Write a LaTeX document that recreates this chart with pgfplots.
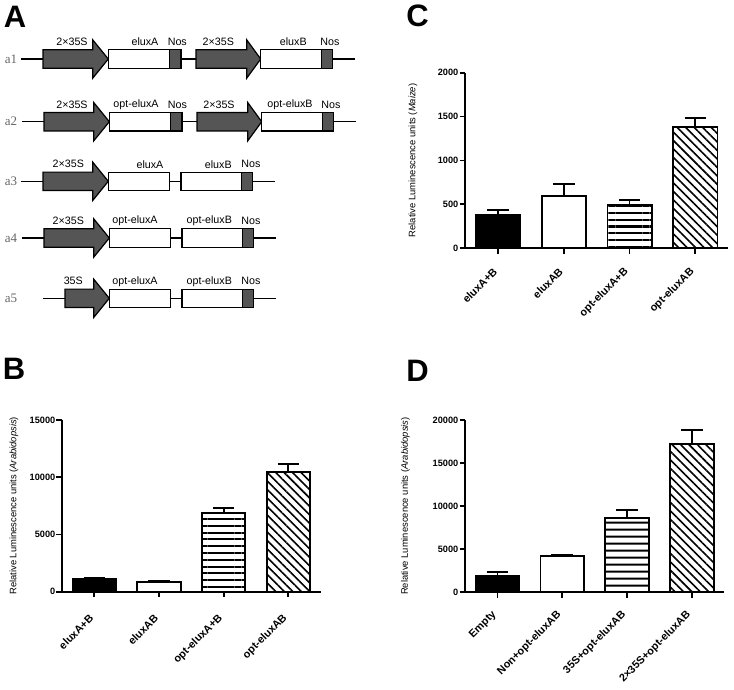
\documentclass[border=0pt]{standalone}
\usepackage{fontspec}
\setmainfont{Liberation Sans}
\newfontfamily\seriffont{Liberation Serif}
\usepackage{pgfplots}
\pgfplotsset{compat=1.18}
\usetikzlibrary{patterns.meta}
\definecolor{gdark}{HTML}{555555}
\definecolor{glab}{HTML}{666666}

\newcommand{\prom}[4]{% x0, xhead, xtip, y
  \filldraw[fill=gdark,draw=black,line width=1.2pt,line join=miter]
   (#1,#4-9.2) -- (#2,#4-9.2) -- (#2,#4-19.2) -- (#3,#4) -- (#2,#4+19.2) -- (#2,#4+9.2) -- (#1,#4+9.2) -- cycle;}
\newcommand{\gbox}[3]{\filldraw[fill=white,draw=black,line width=1.2pt] (#1,#3-9.2) rectangle (#2,#3+9.2);}
\newcommand{\nos}[3]{\filldraw[fill=gdark,draw=black,line width=1.2pt] (#1,#3-9.2) rectangle (#2,#3+9.2);}
\newcommand{\wire}[3]{\draw[black,line width=1.5pt] (#1,#3) -- (#2,#3);}
\newcommand{\lab}[3]{\node[font=\fontsize{10.7}{12}\selectfont,inner sep=0pt] at (#1,#3-17) {#2};}
\newcommand{\rowlab}[2]{\node[font=\seriffont\fontsize{13}{14}\selectfont,text=glab,inner sep=0pt] at (11,#2) {#1};}

\pgfplotsset{
  panel/.style={
    scale only axis, axis lines*=left, enlargelimits=false,
    xmin=-0.5, xmax=3.5, ymin=0, xtick={0,1,2,3},
    tick align=outside, major tick length=5.5pt,
    axis line style={line width=1.8pt},
    every tick/.style={line width=1.8pt, black},
    scaled y ticks=false,
    /pgf/number format/assume math mode=true,
    /pgf/number format/1000 sep={},
    yticklabel style={font=\fontsize{9.2}{10}\selectfont\bfseries, inner sep=1pt},
    every axis y label/.style={rotate=90, anchor=center, font=\fontsize{9.4}{11}\selectfont},
  },
  xlabs/.style={xticklabel style={font=\fontsize{10.8}{12}\selectfont\bfseries,
      yshift=#1, xshift=-2pt, rotate=45, anchor=east, inner sep=1pt}},
  bar/.style={ybar, bar width=0.67, bar shift=0pt, draw=black, line width=1.8pt,
    error bars/y dir=plus, error bars/y explicit,
    error bars/error bar style={line width=1.8pt, black, solid},
    error bars/error mark options={rotate=90, line width=1.8pt, mark size=10.8pt, black}},
}

\begin{document}
\begin{tikzpicture}
\useasboundingbox (0pt,0pt) rectangle (734pt,-689pt);
\begin{scope}[x=1pt,y=-1pt]
% panel letters
\node[font=\fontsize{31}{31}\selectfont\bfseries,inner sep=0pt] at (15,16.5) {A};
\node[font=\fontsize{31}{31}\selectfont\bfseries,inner sep=0pt] at (14,369) {B};
\node[font=\fontsize{31}{31}\selectfont\bfseries,inner sep=0pt] at (417.5,16) {C};
\node[font=\fontsize{31}{31}\selectfont\bfseries,inner sep=0pt] at (417.5,371) {D};
% a1
\def\yy{59}
\rowlab{a1}{\yy}
\wire{21}{355}{\yy}
\prom{43}{92.7}{108.3}{\yy}\gbox{108.3}{169.3}{\yy}\nos{169.3}{181}{\yy}
\prom{196}{246.7}{260.7}{\yy}\gbox{260.7}{321.7}{\yy}\nos{321.7}{332.7}{\yy}
\lab{72}{2×35S}{\yy}\lab{145}{eluxA}{\yy}\lab{177.3}{Nos}{\yy}
\lab{218.3}{2×35S}{\yy}\lab{293.3}{eluxB}{\yy}\lab{330}{Nos}{\yy}
% a2
\def\yy{121.7}
\rowlab{a2}{\yy}
\wire{22}{356}{\yy}
\prom{44}{93.7}{109.3}{\yy}\gbox{109.3}{170.3}{\yy}\nos{170.3}{182}{\yy}
\prom{197}{247.7}{261.7}{\yy}\gbox{261.7}{322.7}{\yy}\nos{322.7}{333.7}{\yy}
\lab{72}{2×35S}{\yy}\lab{136}{opt-eluxA}{\yy}\lab{177.5}{Nos}{\yy}
\lab{219}{2×35S}{\yy}\lab{290}{opt-eluxB}{\yy}\lab{331}{Nos}{\yy}
% a3
\def\yy{181.3}
\rowlab{a3}{\yy}
\wire{21}{275}{\yy}
\prom{43}{92.7}{108.3}{\yy}\gbox{108.3}{169.3}{\yy}
\gbox{181}{241.7}{\yy}\nos{241.7}{252.7}{\yy}
\lab{68.3}{2×35S}{\yy}\lab{150}{eluxA}{\yy}\lab{218.3}{eluxB}{\yy}\lab{251}{Nos}{\yy}
% a4
\def\yy{238}
\rowlab{a4}{\yy}
\wire{22}{276}{\yy}
\prom{44}{93.7}{109.3}{\yy}\gbox{109.3}{170.3}{\yy}
\gbox{182}{242.7}{\yy}\nos{242.7}{253.7}{\yy}
\lab{68.3}{2×35S}{\yy}\lab{135}{opt-eluxA}{\yy}\lab{209.3}{opt-eluxB}{\yy}\lab{251}{Nos}{\yy}
% a5
\def\yy{298.3}
\rowlab{a5}{\yy}
\wire{43}{276}{\yy}
\prom{65}{93.7}{109.3}{\yy}\gbox{109.3}{170.3}{\yy}
\gbox{182}{242.7}{\yy}\nos{242.7}{253.7}{\yy}
\lab{73.3}{35S}{\yy}\lab{135}{opt-eluxA}{\yy}\lab{209.3}{opt-eluxB}{\yy}\lab{251}{Nos}{\yy}
\end{scope}

% ---------- B ----------
\begin{axis}[panel, xlabs=-18.5pt, at={(62pt,-591.7pt)}, anchor=south west,
  width=258.7pt, height=171.7pt, ymax=15000, ytick={0,5000,10000,15000},
  xticklabels={eluxA+B,eluxAB,opt-eluxA+B,opt-eluxAB},
  ylabel={Relative Luminescence units (\textit{Arabidopsis})},
  ylabel style={at={(axis description cs:-0.1855,0.5)}}]
\addplot[bar, fill=black] coordinates {(0,1080) +- (0,90)};
\addplot[bar, fill=white] coordinates {(1,850) +- (0,80)};
\addplot[bar, pattern={Lines[angle=0,distance=6.8pt,line width=2pt]}] coordinates {(2,6900) +- (0,385)};
\addplot[bar, pattern={Lines[angle=-45,distance=6pt,line width=1.6pt]}] coordinates {(3,10490) +- (0,670)};
\end{axis}

% ---------- C ----------
\begin{axis}[panel, xlabs=-15.5pt, at={(465pt,-248.3pt)}, anchor=south west,
  width=263.3pt, height=175.7pt, ymax=2000, ytick={0,500,1000,1500,2000},
  xticklabels={eluxA+B,eluxAB,opt-eluxA+B,opt-eluxAB},
  ylabel={Relative Luminescence units (\textit{Maize})},
  ylabel style={at={(axis description cs:-0.1975,0.5)}}]
\addplot[bar, fill=black] coordinates {(0,379) +- (0,57)};
\addplot[bar, fill=white] coordinates {(1,595) +- (0,141)};
\addplot[bar, pattern={Lines[angle=0,distance=6.8pt,line width=2.2pt]}] coordinates {(2,493) +- (0,60)};
\addplot[bar, pattern={Lines[angle=-45,distance=6pt,line width=1.6pt]}] coordinates {(3,1381) +- (0,99)};
\end{axis}

% ---------- D ----------
\begin{axis}[panel, xlabs=-15pt, at={(465pt,-592pt)}, anchor=south west,
  width=259.3pt, height=171.7pt, ymax=20000, ytick={0,5000,10000,15000,20000},
  xticklabels={Empty,Non+opt-eluxAB,35S+opt-eluxAB,2×35S+opt-eluxAB},
  ylabel={Relative Luminescence units (\textit{Arabidopsis})},
  ylabel style={at={(axis description cs:-0.2295,0.5)}}]
\addplot[bar, fill=black] coordinates {(0,1864) +- (0,466)};
\addplot[bar, fill=white] coordinates {(1,4193) +- (0,117)};
\addplot[bar, pattern={Lines[angle=0,distance=6.9pt,line width=2pt]}] coordinates {(2,8585) +- (0,931)};
\addplot[bar, pattern={Lines[angle=-45,distance=6pt,line width=1.6pt]}] coordinates {(3,17275) +- (0,1560)};
\end{axis}
\end{tikzpicture}
\end{document}
